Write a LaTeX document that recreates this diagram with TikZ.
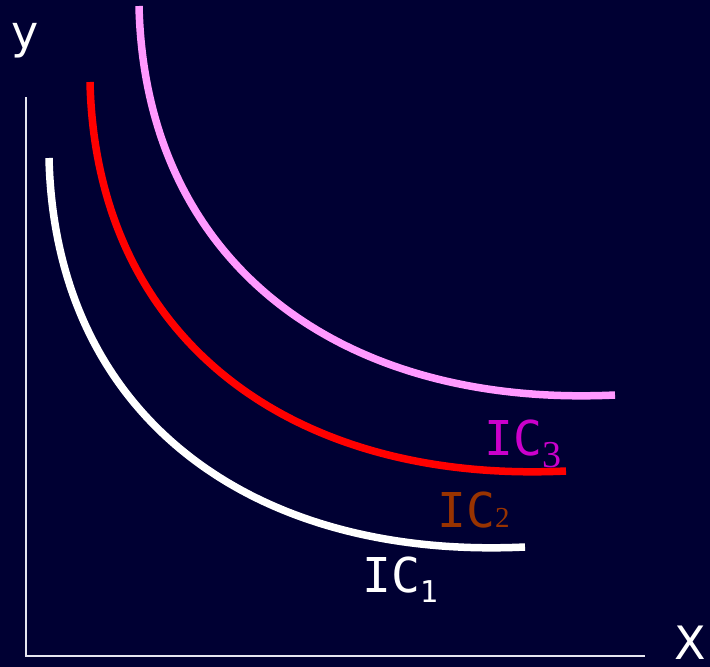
\documentclass[tikz,border=0pt]{standalone}
\usepackage{fontspec}
\setmainfont{DejaVu Sans}
\newfontfamily\labmono{DejaVu Sans Mono}
\newfontfamily\labserif{Liberation Serif}
\definecolor{bgnavy}{HTML}{000033}
\definecolor{axisgray}{HTML}{E6E6F0}
\definecolor{icpink}{HTML}{FF99FF}
\definecolor{icmagenta}{HTML}{CC00CC}
\definecolor{icbrown}{HTML}{993300}
\tikzset{
  axisline/.style={draw=axisgray, line width=1.5pt},
  icurve/.style={line width=7.5pt, line cap=butt},
  axislabel/.style={text=white, inner sep=0pt, anchor=base, font=\fontsize{46}{46}\selectfont},
  iclabel/.style={inner sep=0pt, anchor=base west, font=\labmono\fontsize{48}{48}\selectfont},
}
\begin{document}
\begin{tikzpicture}[x=1pt,y=-1pt]
  \fill[bgnavy] (0,0) rectangle (710,667);
  \useasboundingbox (0,0) rectangle (710,667);
  % axes
  \coordinate (ytop) at (26,97);
  \coordinate (orig) at (26,656);
  \coordinate (xend) at (645,656);
  \draw[axisline] (ytop) -- (orig) -- (xend);
  \node[axislabel] (ylab) at (25,48) {y};
  \node[axislabel, font=\fontsize{46}{46}\selectfont] (xlab) at (690,659) {X};
  % indifference curves
  \coordinate (w0) at (49,158);
  \coordinate (w1) at (525,547);
  \coordinate (r0) at (90,82);
  \coordinate (r1) at (566,471);
  \coordinate (p0) at (139,6);
  \coordinate (p1) at (615,395);
  \draw[icurve, white] (w0) .. controls (55,415) and (250,560) .. (w1);
  \draw[icurve, red] (r0) .. controls (96,339) and (291,484) .. (r1);
  \draw[icurve, icpink] (p0) .. controls (145,263) and (340,408) .. (p1);
  % labels
  \node[iclabel, text=white] (ic1) at (362,592) {IC\raisebox{-10pt}{\fontsize{30}{30}\selectfont 1}};
  \node[iclabel, text=icbrown] (ic2) at (437,527) {IC\labserif\fontsize{29}{29}\selectfont 2};
  \node[iclabel, text=icmagenta] (ic3) at (484,455) {IC\raisebox{-12pt}{\labserif\fontsize{38}{38}\selectfont 3}};
\end{tikzpicture}
\end{document}
